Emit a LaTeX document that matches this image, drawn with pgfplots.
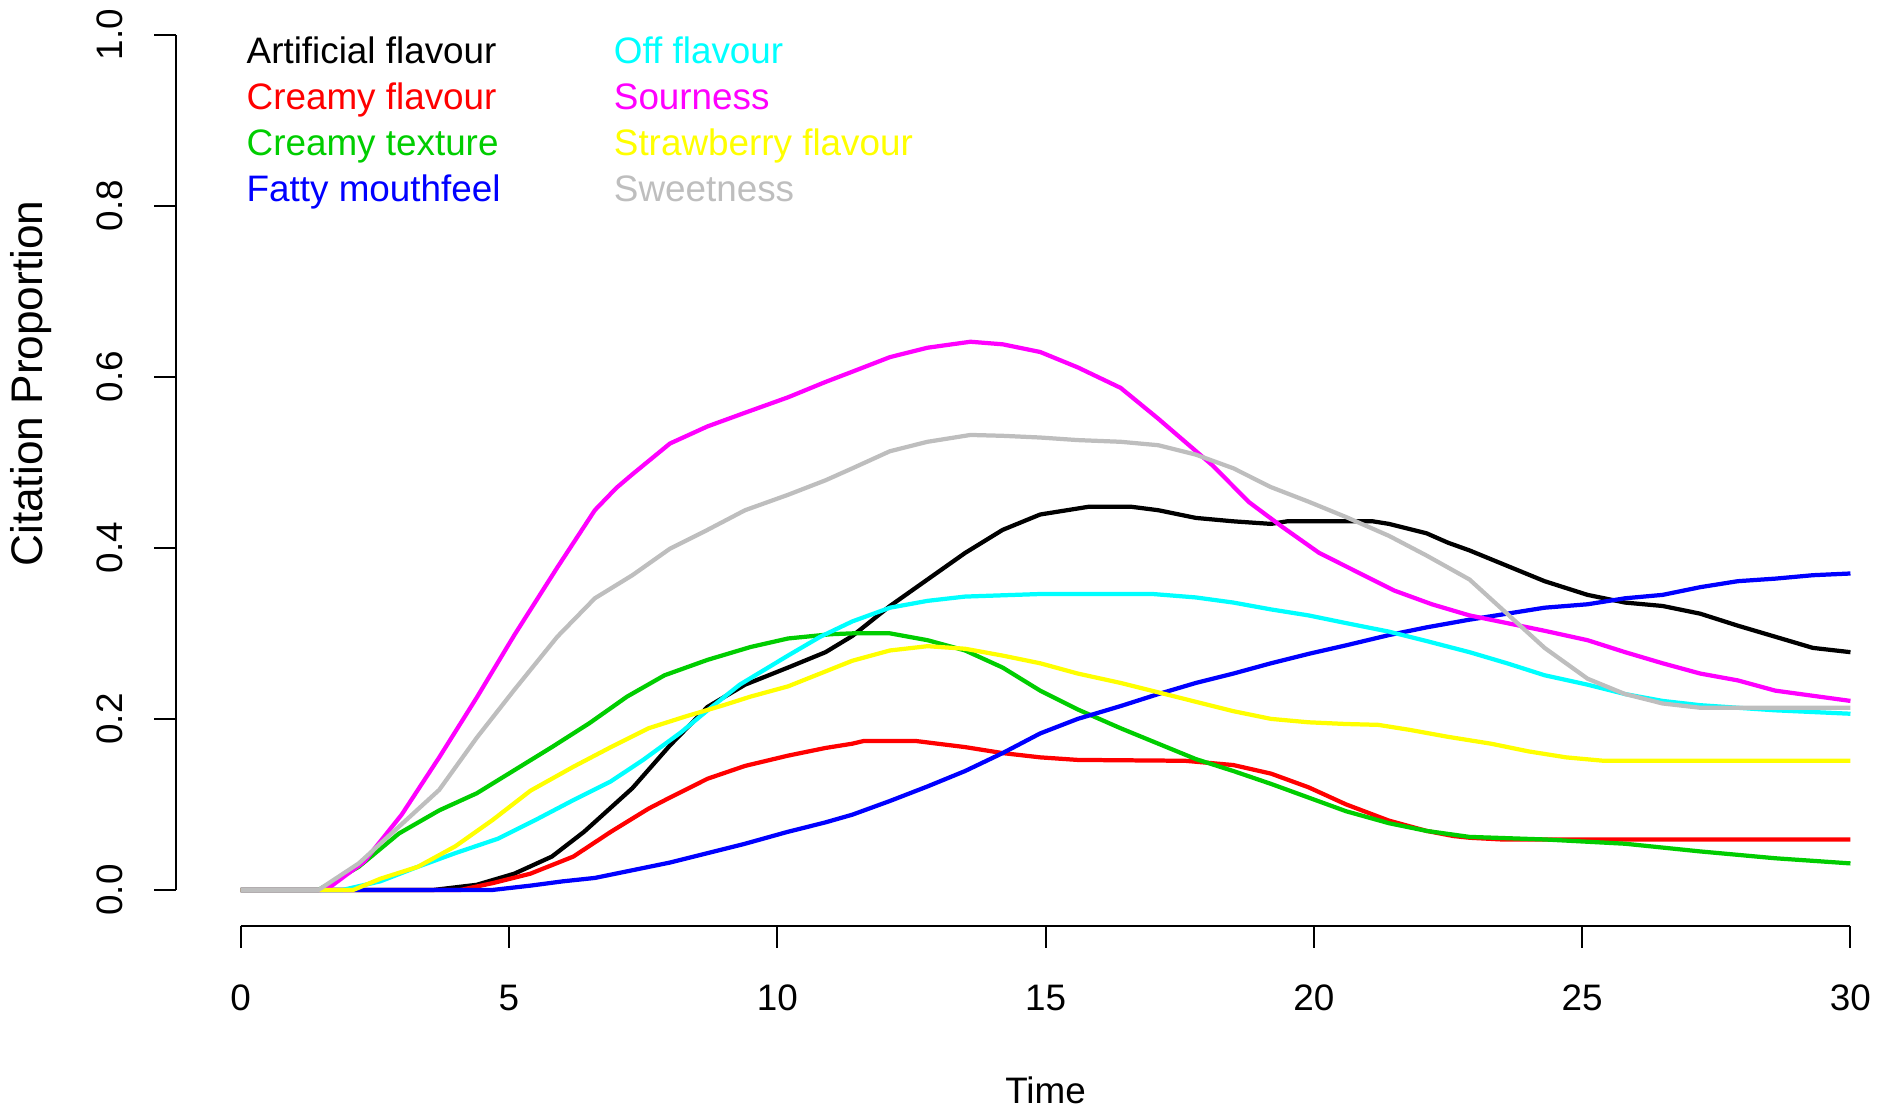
\documentclass[border=0pt]{standalone}
\usepackage{pgfplots}
\pgfplotsset{compat=1.18}
\usepackage{fontspec}
\setmainfont{Liberation Sans}
\usetikzlibrary{calc}

\definecolor{rgreen}{HTML}{00CD00}
\definecolor{rgray}{HTML}{BEBEBE}
\definecolor{rcyan}{HTML}{00FFFF}
\definecolor{rmagenta}{HTML}{FF00FF}
\definecolor{ryellow}{HTML}{FFFF00}
\definecolor{rred}{HTML}{FF0000}
\definecolor{rblue}{HTML}{0000FF}

\begin{document}
\fontsize{10}{12}\selectfont
\begin{tikzpicture}
\begin{axis}[
    name=a,
    scale only axis,
    width=461.6pt, height=251.1pt,
    xmin=-1.2, xmax=30.5,
    ymin=-0.042, ymax=1.04,
    clip=false,
    axis x line*=bottom, axis y line*=left,
    axis line style={draw=none},
    tick align=outside,
    major tick length=6pt,
    tick style={line width=0.54pt, black},
    xtick={0,5,...,30},
    ytick={0,0.2,0.4,0.6,0.8,1.0},
    minor tick num=0,
    /pgf/number format/assume math mode=true,
    tick label style={font=\fontsize{10}{12}\selectfont},
    xticklabel style={anchor=base, inner sep=0pt, yshift=-17pt},
    yticklabel style={xshift=-8.3pt, rotate=90, anchor=south, inner sep=0pt,
        /pgf/number format/.cd, fixed, fixed zerofill, precision=1},
    every axis plot/.append style={line width=1.15pt, line join=round},
]
% axis lines spanning only the tick range, as in R
\draw[line width=0.54pt] (axis cs:0,-0.042) -- (axis cs:30,-0.042);
\draw[line width=0.54pt] (axis cs:-1.2,0) -- (axis cs:-1.2,1);

% Artificial flavour
\addplot[black] coordinates {(0,0) (3.6,0) (4.4,0.006) (5.1,0.019) (5.8,0.039) (6.4,0.068) (7.3,0.119) (8.0,0.169) (8.7,0.214) (9.4,0.240) (10.2,0.260) (10.9,0.278) (11.4,0.297) (12.1,0.332) (12.8,0.363) (13.5,0.394) (14.2,0.421) (14.9,0.439) (15.8,0.448) (16.6,0.448) (17.1,0.444) (17.8,0.435) (18.5,0.431) (19.2,0.428) (19.5,0.431) (21.1,0.431) (21.4,0.428) (22.1,0.417) (22.5,0.406) (22.9,0.397) (23.6,0.379) (24.3,0.361) (25.1,0.345) (25.8,0.336) (26.5,0.332) (27.2,0.323) (27.9,0.309) (28.6,0.296) (29.3,0.283) (30,0.278)};
% Creamy flavour
\addplot[rred] coordinates {(0,0) (4.1,0) (4.7,0.008) (5.4,0.019) (6.2,0.039) (6.9,0.068) (7.6,0.095) (8.0,0.108) (8.7,0.130) (9.4,0.145) (10.2,0.157) (10.9,0.166) (11.4,0.171) (11.6,0.174) (12.6,0.174) (13.5,0.167) (14.2,0.160) (14.9,0.155) (15.6,0.152) (17.6,0.151) (18.5,0.146) (19.2,0.136) (19.9,0.120) (20.6,0.100) (21.4,0.081) (22.1,0.069) (22.6,0.063) (22.9,0.061) (23.5,0.059) (30,0.059)};
% Creamy texture
\addplot[rgreen] coordinates {(0,0) (1.45,0) (2.2,0.027) (2.95,0.066) (3.7,0.093) (4.4,0.113) (5.1,0.140) (5.8,0.167) (6.5,0.195) (7.2,0.226) (7.9,0.251) (8.7,0.269) (9.5,0.284) (10.2,0.294) (11.0,0.299) (11.4,0.300) (12.1,0.300) (12.8,0.292) (13.5,0.280) (14.2,0.260) (14.9,0.233) (15.6,0.211) (16.4,0.189) (17.1,0.171) (17.8,0.153) (18.5,0.139) (19.2,0.124) (19.9,0.108) (20.6,0.092) (21.4,0.078) (22.1,0.069) (22.9,0.062) (24.3,0.059) (25.8,0.054) (27.2,0.045) (28.6,0.037) (30,0.031)};
% Fatty mouthfeel
\addplot[rblue] coordinates {(0,0) (4.7,0) (5.4,0.005) (6.0,0.010) (6.6,0.014) (7.3,0.023) (8.0,0.032) (8.7,0.043) (9.4,0.054) (10.2,0.068) (10.9,0.079) (11.4,0.088) (12.1,0.104) (12.8,0.121) (13.5,0.139) (14.2,0.160) (14.9,0.183) (15.6,0.200) (16.4,0.215) (17.1,0.229) (17.8,0.242) (18.5,0.253) (19.2,0.265) (19.9,0.276) (20.6,0.286) (21.4,0.298) (22.1,0.307) (22.9,0.316) (23.6,0.323) (24.3,0.330) (25.1,0.334) (25.8,0.341) (26.5,0.345) (27.2,0.354) (27.9,0.361) (28.6,0.364) (29.3,0.368) (30,0.370)};
% Off flavour
\addplot[rcyan] coordinates {(0,0) (1.9,0) (2.6,0.010) (3.3,0.027) (4.0,0.043) (4.8,0.060) (5.5,0.082) (6.2,0.105) (6.9,0.127) (7.5,0.152) (8.2,0.184) (8.7,0.210) (9.3,0.240) (10.2,0.274) (10.8,0.296) (11.4,0.314) (12.1,0.330) (12.8,0.338) (13.5,0.343) (14.9,0.346) (17.0,0.346) (17.8,0.342) (18.5,0.336) (19.2,0.328) (19.9,0.321) (20.6,0.312) (21.4,0.302) (22.1,0.291) (22.9,0.278) (23.6,0.265) (24.3,0.251) (25.1,0.240) (25.8,0.229) (26.5,0.221) (27.2,0.216) (27.9,0.213) (28.6,0.210) (30,0.206)};
% Sourness
\addplot[rmagenta] coordinates {(0,0) (1.5,0) (1.7,0.005) (2.3,0.033) (3.0,0.088) (3.7,0.155) (4.4,0.225) (5.1,0.298) (5.9,0.377) (6.6,0.444) (7.0,0.470) (7.3,0.486) (8.0,0.522) (8.7,0.542) (9.4,0.558) (10.2,0.576) (10.9,0.594) (11.4,0.606) (12.1,0.623) (12.8,0.634) (13.6,0.641) (14.2,0.638) (14.9,0.629) (15.6,0.611) (16.4,0.587) (17.1,0.551) (17.6,0.524) (18.1,0.497) (18.8,0.453) (19.4,0.425) (20.1,0.394) (20.8,0.372) (21.5,0.350) (22.2,0.334) (22.9,0.321) (23.6,0.312) (24.3,0.303) (25.1,0.292) (25.8,0.278) (26.5,0.265) (27.2,0.253) (27.9,0.245) (28.6,0.233) (29.3,0.227) (30,0.221)};
% Strawberry flavour
\addplot[ryellow] coordinates {(0,0) (2.1,0) (2.6,0.013) (3.3,0.027) (4.0,0.051) (4.7,0.082) (5.4,0.116) (6.2,0.144) (6.9,0.167) (7.6,0.189) (8.3,0.203) (9.0,0.216) (9.5,0.226) (10.2,0.238) (10.8,0.253) (11.4,0.268) (12.1,0.280) (12.8,0.285) (13.5,0.282) (14.2,0.274) (14.9,0.265) (15.6,0.253) (16.4,0.242) (17.1,0.231) (17.8,0.220) (18.5,0.209) (19.2,0.200) (19.9,0.196) (20.6,0.194) (21.2,0.193) (21.8,0.187) (22.5,0.179) (23.3,0.171) (24.0,0.162) (24.7,0.155) (25.4,0.151) (30,0.151)};
% Sweetness
\addplot[rgray] coordinates {(0,0) (1.45,0) (2.2,0.031) (2.95,0.074) (3.7,0.117) (4.4,0.178) (5.1,0.234) (5.9,0.296) (6.6,0.341) (7.3,0.368) (8.0,0.399) (8.7,0.421) (9.4,0.444) (10.2,0.462) (10.9,0.479) (11.4,0.493) (12.1,0.513) (12.8,0.524) (13.6,0.532) (14.2,0.531) (14.9,0.529) (15.6,0.526) (16.4,0.524) (17.1,0.520) (17.8,0.509) (18.5,0.493) (19.2,0.471) (19.9,0.454) (20.6,0.436) (21.4,0.414) (22.1,0.391) (22.5,0.377) (22.9,0.363) (23.6,0.323) (24.3,0.283) (25.1,0.247) (25.8,0.229) (26.5,0.218) (27.2,0.213) (30,0.213)};

% legend, two columns of coloured text
\begin{scope}[every node/.style={anchor=base west, inner sep=0pt}]
\node[text=black]    at (axis cs:0.098,0.9658) {Artificial flavour};
\node[text=rred]     at (axis cs:0.098,0.9122) {Creamy flavour};
\node[text=rgreen]   at (axis cs:0.098,0.8585) {Creamy texture};
\node[text=rblue]    at (axis cs:0.098,0.8049) {Fatty mouthfeel};
\node[text=rcyan]    at (axis cs:6.942,0.9658) {Off flavour};
\node[text=rmagenta] at (axis cs:6.942,0.9122) {Sourness};
\node[text=ryellow]  at (axis cs:6.942,0.8585) {Strawberry flavour};
\node[text=rgray]    at (axis cs:6.942,0.8049) {Sweetness};
\end{scope}

% axis titles
\node[anchor=base, inner sep=0pt] at ([yshift=-48.1pt]axis cs:15,-0.042) {Time};
\node[rotate=90, anchor=base, inner sep=0pt, font=\fontsize{12}{14}\selectfont]
    at ([xshift=-36.2pt]axis description cs:0,0.5861) {Citation Proportion};
\end{axis}
\pgfresetboundingbox
\path ([xshift=-47.84pt, yshift=-49.4pt]a.south west) rectangle ([xshift=0.2pt, yshift=0.14pt]a.north east);
\end{tikzpicture}
\end{document}
